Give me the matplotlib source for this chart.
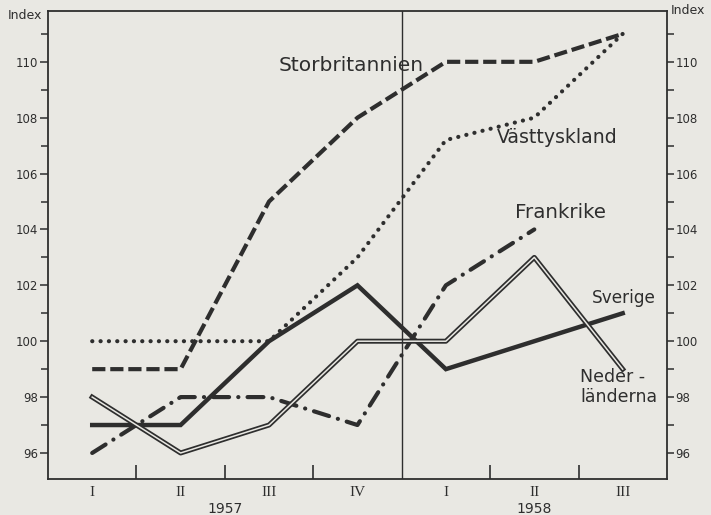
import matplotlib.pyplot as plt
import matplotlib.patheffects as pe
from matplotlib.ticker import FixedLocator
from matplotlib.transforms import blended_transform_factory

plt.rcParams['lines.scale_dashes'] = False
plt.rcParams['font.family'] = 'DejaVu Sans'

# Quarterly index values, I 1957 .. III 1958
quarters = ["I", "II", "III", "IV", "I", "II", "III"]
years = ["1957", "1958"]
storbritannien = [99, 99, 105, 108, 110, 110, 111]
vasttyskland = [100, 100, 100, 103, 107.2, 108, 111]
frankrike = [96, 98, 98, 97, 102, 104]
sverige = [97, 97, 100, 102, 99, 100, 101]
nederlanderna = [98, 96, 97, 100, 100, 103, 99]

bg = "#e9e8e3"
ink = "#2e2e2e"

fig = plt.figure(figsize=(7.11, 5.15), dpi=100, facecolor=bg)
ax = fig.add_axes([0.0675, 0.07, 0.8705, 0.9087], facecolor=bg)

x = list(range(len(quarters)))

ax.plot(x, storbritannien, color=ink, lw=3.0, dashes=(9.5, 3.5), solid_capstyle='butt')
ax.plot(x, vasttyskland, color=ink, lw=3.0, dashes=(0.1, 5.9), dash_capstyle='round')
ax.plot(x[:len(frankrike)], frankrike, color=ink, lw=3.0,
        dashes=(11.4, 6.6, 0.1, 6.6), dash_capstyle='round')
ax.plot(x, sverige, color=ink, lw=3.2, solid_joinstyle='miter')
ax.plot(x, nederlanderna, color=bg, lw=1.1,
        path_effects=[pe.Stroke(linewidth=3.6, foreground=ink), pe.Normal()])

ax.axvline(3.5, color=ink, lw=1.0)

ax.set_xlim(-0.5, len(quarters) - 0.5)
ax.set_ylim(95.07, 111.82)

for s in ax.spines.values():
    s.set_color(ink)
    s.set_linewidth(1.3)

# x axis: roman numeral labels at quarters, inward marks between them
ax.set_xticks(x)
ax.set_xticklabels(quarters, fontfamily='Liberation Serif', fontsize=11, color=ink)
ax.tick_params(axis='x', length=0, pad=5)
ax.xaxis.set_minor_locator(FixedLocator([0.5, 1.5, 2.5, 4.5, 5.5]))
ax.tick_params(axis='x', which='minor', direction='in', length=10, width=1.2, color=ink)

trans = blended_transform_factory(ax.transData, ax.transAxes)
ax.text(1.5, -0.064, years[0], transform=trans, ha='center', va='center',
        fontsize=10, color=ink)
ax.text(5.0, -0.064, years[1], transform=trans, ha='center', va='center',
        fontsize=10, color=ink)

# y axes on both sides
yt = list(range(96, 111, 2))
ymin = list(range(95, 112, 2))
ax.set_yticks(yt)
ax.set_yticklabels([str(v) for v in yt], fontsize=8.5, color=ink)
ax.yaxis.set_minor_locator(FixedLocator(ymin))
ax.tick_params(axis='y', which='major', direction='out', length=6, width=1.1, color=ink, pad=1)
ax.tick_params(axis='y', which='minor', direction='out', length=5, width=1.1, color=ink)

ax2 = ax.twinx()
ax2.set_ylim(ax.get_ylim())
ax2.set_yticks(yt)
ax2.set_yticklabels([str(v) for v in yt], fontsize=8.5, color=ink)
ax2.yaxis.set_minor_locator(FixedLocator(ymin))
ax2.tick_params(axis='y', which='major', direction='out', length=5, width=1.1, color=ink, pad=1)
ax2.tick_params(axis='y', which='minor', direction='out', length=5, width=1.1, color=ink)
for s in ax2.spines.values():
    s.set_visible(False)

ax.text(-0.037, 0.99, "Index", transform=ax.transAxes, ha='center', va='center',
        fontsize=9, color=ink)
ax.text(1.034, 1.0, "Index", transform=ax.transAxes, ha='center', va='center',
        fontsize=9, color=ink)

# series labels
ax.text(2.93, 109.86, "Storbritannien", ha='center', va='center', fontsize=14.5, color=ink)
ax.text(5.26, 107.3, "Västtyskland", ha='center', va='center', fontsize=13.6, color=ink)
ax.text(5.30, 104.6, "Frankrike", ha='center', va='center', fontsize=14.3, color=ink)
ax.text(6.01, 101.55, "Sverige", ha='center', va='center', fontsize=12.2, color=ink)
ax.text(5.52, 98.36, "Neder -\nländerna", ha='left', va='center', linespacing=1.1,
        fontsize=12.5, color=ink)

fig.savefig("out.png", dpi=100, facecolor=bg)
